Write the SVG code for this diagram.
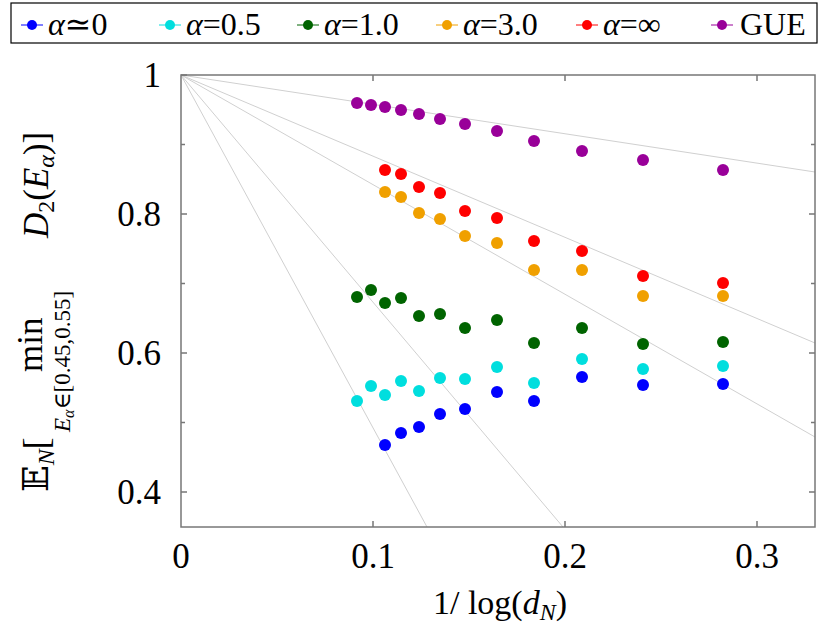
<svg xmlns="http://www.w3.org/2000/svg" width="830" height="631" viewBox="0 0 830 631">
<style>
text{font-family:"Liberation Serif","DejaVu Serif",serif;fill:#000}
.t{font-size:35px}
.i{font-style:italic}
.g{stroke:#d0d0d0;stroke-width:1;fill:none}
.b{fill:#0000ff}.c{fill:#00dede}.d{fill:#006400}.o{fill:#f0a000}.r{fill:#ff0000}.p{fill:#990099}
</style>
<defs><clipPath id="cp"><rect x="181" y="75" width="634" height="452"/></clipPath></defs>
<rect width="830" height="631" fill="#fff"/>
<g id="guides" clip-path="url(#cp)">
<line class="g" x1="181" y1="75" x2="815" y2="172"/>
<line class="g" x1="181" y1="75" x2="815" y2="343"/>
<line class="g" x1="181" y1="75" x2="815" y2="437"/>
<line class="g" x1="181" y1="75" x2="563" y2="527"/>
<line class="g" x1="181" y1="75" x2="427" y2="527"/>
</g>
<g id="axes" stroke="#777" stroke-width="1.5" fill="none">
<rect x="181" y="75" width="634" height="452"/>
<path d="M373 75v6M565 75v6M757 75v6M373 527v-6M565 527v-6M757 527v-6M181 75h6M181 144.5h4M181 214h6M181 283.5h4M181 353h6M181 422.5h4M181 492h6M815 144.5h-4M815 214h-6M815 283.5h-4M815 353h-6M815 422.5h-4M815 492h-6"/>
</g>
<g id="ticks" class="t">
<text x="161" y="87" text-anchor="end">1</text>
<text x="161" y="226" text-anchor="end">0.8</text>
<text x="161" y="365" text-anchor="end">0.6</text>
<text x="161" y="504" text-anchor="end">0.4</text>
<text x="181" y="568" text-anchor="middle">0</text>
<text x="373" y="568" text-anchor="middle">0.1</text>
<text x="565" y="568" text-anchor="middle">0.2</text>
<text x="757" y="568" text-anchor="middle">0.3</text>
</g>
<text id="xlabel" x="500" y="614" text-anchor="middle" font-size="34">1/ log(<tspan class="i">d</tspan><tspan font-size="24" class="i" dy="6">N</tspan><tspan dy="-6">)</tspan></text>
<g id="ylabel" transform="translate(48,300) rotate(-90)" font-size="35">
<text x="-192" y="0">𝔼<tspan class="i" font-size="24" dy="6">N</tspan><tspan dy="-6">[</tspan></text>
<text x="-72" y="-6">min</text>
<text x="-132" y="22" font-size="23"><tspan class="i">E</tspan><tspan class="i" font-size="16" dy="4">α</tspan><tspan dy="-4">∈[0.45,0.55]</tspan></text>
<text x="62" y="0"><tspan class="i">D</tspan><tspan font-size="24" dy="6">2</tspan><tspan dy="-6">(</tspan><tspan class="i">E</tspan><tspan class="i" font-size="24" dy="6">α</tspan><tspan dy="-6">)]</tspan></text>
</g>
<g id="legend">
<rect x="11" y="3" width="806" height="40" fill="#fff" stroke="#000" stroke-width="1.2"/>
<g font-size="32">
<line x1="21" y1="25" x2="43" y2="25" stroke="#0000ff"/><circle class="b" cx="32" cy="25" r="5"/>
<text x="48" y="35"><tspan class="i">α</tspan>≃0</text>
<line x1="159" y1="25" x2="181" y2="25" stroke="#00dede"/><circle class="c" cx="170" cy="25" r="5"/>
<text x="186" y="35"><tspan class="i">α</tspan>=0.5</text>
<line x1="297" y1="25" x2="319" y2="25" stroke="#006400"/><circle class="d" cx="308" cy="25" r="5"/>
<text x="324" y="35"><tspan class="i">α</tspan>=1.0</text>
<line x1="436" y1="25" x2="458" y2="25" stroke="#f0a000"/><circle class="o" cx="447" cy="25" r="5"/>
<text x="463" y="35"><tspan class="i">α</tspan>=3.0</text>
<line x1="576" y1="25" x2="598" y2="25" stroke="#ff0000"/><circle class="r" cx="587" cy="25" r="5"/>
<text x="603" y="35"><tspan class="i">α</tspan>=∞</text>
<line x1="711" y1="25" x2="733" y2="25" stroke="#990099"/><circle class="p" cx="722" cy="25" r="5"/>
<text x="740" y="35">GUE</text>
</g>
</g>
<g id="GUE" class="p">
<circle cx="357" cy="103" r="6"/><circle cx="371" cy="105" r="6"/><circle cx="385" cy="107" r="6"/><circle cx="401" cy="110" r="6"/><circle cx="419" cy="114" r="6"/><circle cx="440" cy="119" r="6"/><circle cx="465" cy="124" r="6"/><circle cx="497" cy="131" r="6"/><circle cx="534" cy="141" r="6"/><circle cx="582" cy="151" r="6"/><circle cx="643" cy="160" r="6"/><circle cx="723" cy="170" r="6"/>
</g>
<g id="ainf" class="r">
<circle cx="385" cy="170" r="6"/><circle cx="401" cy="174" r="6"/><circle cx="419" cy="187" r="6"/><circle cx="440" cy="193" r="6"/><circle cx="465" cy="211" r="6"/><circle cx="497" cy="218" r="6"/><circle cx="534" cy="241" r="6"/><circle cx="582" cy="251" r="6"/><circle cx="643" cy="276" r="6"/><circle cx="723" cy="283" r="6"/>
</g>
<g id="a3" class="o">
<circle cx="385" cy="192" r="6"/><circle cx="401" cy="197" r="6"/><circle cx="419" cy="213" r="6"/><circle cx="440" cy="219" r="6"/><circle cx="465" cy="236" r="6"/><circle cx="497" cy="243" r="6"/><circle cx="534" cy="270" r="6"/><circle cx="582" cy="270" r="6"/><circle cx="643" cy="296" r="6"/><circle cx="723" cy="296" r="6"/>
</g>
<g id="a1" class="d">
<circle cx="357" cy="297" r="6"/><circle cx="371" cy="290" r="6"/><circle cx="385" cy="303" r="6"/><circle cx="401" cy="298" r="6"/><circle cx="419" cy="316" r="6"/><circle cx="440" cy="314" r="6"/><circle cx="465" cy="328" r="6"/><circle cx="497" cy="320" r="6"/><circle cx="534" cy="343" r="6"/><circle cx="582" cy="328" r="6"/><circle cx="643" cy="344" r="6"/><circle cx="723" cy="342" r="6"/>
</g>
<g id="a05" class="c">
<circle cx="357" cy="401" r="6"/><circle cx="371" cy="386" r="6"/><circle cx="385" cy="395" r="6"/><circle cx="401" cy="381" r="6"/><circle cx="419" cy="391" r="6"/><circle cx="440" cy="378" r="6"/><circle cx="465" cy="379" r="6"/><circle cx="497" cy="367" r="6"/><circle cx="534" cy="383" r="6"/><circle cx="582" cy="359" r="6"/><circle cx="643" cy="369" r="6"/><circle cx="723" cy="366" r="6"/>
</g>
<g id="a0" class="b">
<circle cx="385" cy="445" r="6"/><circle cx="401" cy="433" r="6"/><circle cx="419" cy="427" r="6"/><circle cx="440" cy="414" r="6"/><circle cx="465" cy="409" r="6"/><circle cx="497" cy="392" r="6"/><circle cx="534" cy="401" r="6"/><circle cx="582" cy="377" r="6"/><circle cx="643" cy="385" r="6"/><circle cx="723" cy="384" r="6"/>
</g>
</svg>
